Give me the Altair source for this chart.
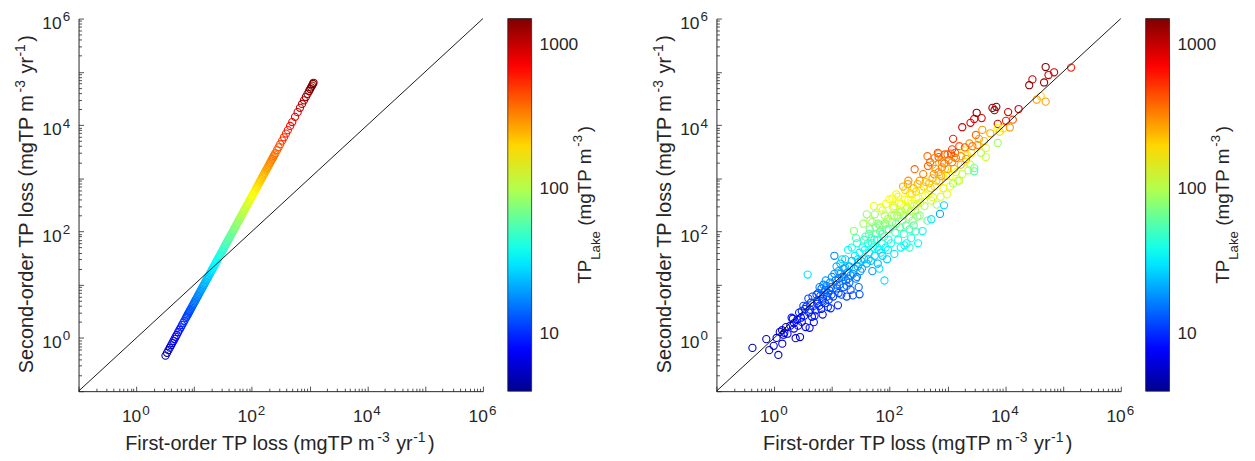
import altair as alt
import pandas as pd

FONT = "Liberation Sans"
TXT = "#262626"
W, H = 407, 375

# ---------------- left panel data (first-order vs second-order) ----------------
left_first = [3.2, 3.4, 3.6, 3.8, 4.0, 4.2, 4.4, 4.6, 4.8, 5.0,
              5.3, 5.6, 5.9, 6.2, 6.5, 6.8, 7.2, 7.6, 8.0, 8.4,
              8.8, 9.3, 9.8, 10.3, 10.8, 11.4, 12, 12.6, 13.3, 14,
              14.7, 15.5, 16.3, 17.1, 18, 19, 20, 21, 22, 23.2,
              24.4, 25.6, 27, 28.4, 30, 31.5, 33, 35, 37, 39,
              41, 43, 45, 47.5, 50, 52.5, 55, 58, 61, 64,
              67, 71, 75, 79, 83, 87, 92, 97, 102, 107,
              113, 119, 125, 132, 139, 146, 154, 162, 171, 180,
              190, 200, 212, 225, 240, 255, 272, 290, 310, 335,
              360, 390, 420, 460, 500, 560, 620, 680, 740, 800,
              860, 920, 980, 1020, 1060, 1100, 1140, 1170,
              7.4, 7.8, 8.2, 8.6, 9.05, 9.55, 10.05, 10.55, 11.1, 11.7,
              12.3, 12.95, 13.65, 14.35, 15.1, 15.9, 16.7, 17.55, 18.5, 19.5,
              20.5, 21.5, 22.6, 23.8, 25, 26.3, 27.7, 29.2, 30.7, 32.2,
              34, 36, 38, 40, 42, 44, 46.2, 48.7, 51.2, 53.7,
              56.5, 59.5, 62.5, 65.5, 69, 73, 77, 81, 85, 89.5,
              94.5, 99.5, 104.5, 110, 116, 122, 128.5, 135.5, 142.5, 150,
              158, 166.5, 175.5, 185, 195, 206, 218.5, 232.5, 247.5]
left_second = [0.465, 0.525, 0.589, 0.656, 0.727, 0.802, 0.88, 0.962, 1.05, 1.14,
               1.28, 1.43, 1.58, 1.75, 1.92, 2.10, 2.36, 2.63, 2.91, 3.21,
               3.52, 3.93, 4.37, 4.82, 5.30, 5.91, 6.55, 7.22, 8.04, 8.91,
               9.82, 10.9, 12.1, 13.3, 14.7, 16.4, 18.2, 20.0, 22.0, 24.5,
               27.1, 29.8, 33.1, 36.7, 40.9, 45.1, 49.5, 55.7, 62.2, 69.1,
               76.4, 84.0, 92.0, 103, 114, 125, 138, 153, 169, 186,
               204, 229, 256, 284, 313, 344, 385, 428, 473, 520,
               580, 644, 710, 792, 878, 969, 1078, 1193, 1329, 1473,
               1641, 1818, 2043, 2301, 2618, 2956, 3363, 3823, 4368, 5101,
               5891, 6914, 8018, 9618, 11364, 14255, 17473, 21018, 24891, 29091,
               33618, 38473, 43655, 47291, 51073, 55000, 59073, 62223,
               2.49, 2.77, 3.06, 3.36, 3.72, 4.15, 4.59, 5.06, 5.60, 6.22,
               6.88, 7.62, 8.47, 9.36, 10.4, 11.5, 12.7, 14.0, 15.6, 17.3,
               19.1, 21.0, 23.2, 25.7, 28.4, 31.4, 34.9, 38.8, 42.8, 47.1,
               52.5, 58.9, 65.6, 72.7, 80.2, 88.0, 97.0, 107.8, 119.2, 131.1,
               145.1, 160.9, 177.6, 195.0, 216.4, 242.2, 269.5, 298.2, 328.4, 364.1,
               405.9, 450.0, 496.4, 550, 611.6, 676.5, 750.6, 834.6, 923.0, 1022.7,
               1134.7, 1260.1, 1400, 1555.7, 1728.4, 1928.9, 2170.1, 2457.1, 2784.4]
left_tp = [4.7, 5.0, 5.3, 5.6, 5.9, 6.2, 6.5, 6.8, 7.1, 7.4,
           7.8, 8.3, 8.7, 9.2, 9.6, 10.1, 10.7, 11.2, 11.8, 12.4,
           13.0, 13.8, 14.5, 15.2, 16.0, 16.9, 17.8, 18.6, 19.7, 20.7,
           21.8, 22.9, 24.1, 25.3, 26.6, 28.1, 29.6, 31.1, 32.6, 34.3,
           36.1, 37.9, 40.0, 42.0, 44.4, 46.6, 48.8, 51.8, 54.8, 57.7,
           60.7, 63.6, 66.6, 70.3, 74, 77.7, 81.4, 85.8, 90.3, 94.7,
           99.2, 105, 111, 117, 123, 129, 136, 144, 151, 158,
           167, 176, 185, 195, 206, 216, 228, 240, 253, 266,
           281, 296, 314, 333, 355, 377, 403, 429, 459, 496,
           533, 577, 622, 681, 740, 829, 918, 1006, 1095, 1184,
           1273, 1362, 1450, 1510, 1569, 1628, 1687, 1732,
           10.95, 11.5, 12.1, 12.7, 13.4, 14.1, 14.9, 15.6, 16.4, 17.3,
           18.2, 19.2, 20.2, 21.2, 22.3, 23.5, 24.7, 26.0, 27.4, 28.9,
           30.3, 31.8, 33.4, 35.2, 37, 38.9, 41.0, 43.2, 45.4, 47.7,
           50.3, 53.3, 56.2, 59.2, 62.2, 65.1, 68.4, 72.1, 75.8, 79.5,
           83.6, 88.1, 92.5, 96.9, 102, 108, 114, 120, 126, 132,
           140, 147, 155, 163, 172, 181, 190, 201, 211, 222,
           234, 246, 260, 274, 289, 305, 323, 344, 366]

# ---------------- right panel data (scatter) ----------------
right_first = [
    0.42, 0.73, 0.82, 0.98, 1.18, 1.38, 1.5, 1.1, 1.25, 1.6, 1.7, 1.9, 2.0, 1.45, 1.37,
    2.35, 2.8, 2.2, 2.5, 2.6, 3.0, 3.0, 3.3, 3.5, 3.8, 3.6, 4.1, 4.0, 4.3, 4.5, 4.85, 4.8, 2.1, 2.7, 3.2, 3.9, 4.6,
    5.2, 5.5, 5.8, 6.0, 6.3, 6.9, 6.6, 7.0, 7.3, 7.6, 8.0, 8.2, 8.5, 9.0, 9.5, 9.3, 5.4, 6.1, 7.8, 8.8, 5.0, 6.5, 7.1, 9.8,
    10.5, 11, 11.5, 12, 12.7, 13, 13.5, 14, 14.5, 15, 16, 16, 17, 17.5, 18, 18.5, 19, 20, 20, 21,
    22, 23, 23, 24, 25, 26, 27, 28, 29, 30, 30, 31, 11, 13, 15, 19, 22, 26, 28, 12,
    33, 34, 35, 36, 38, 40, 40, 42, 44, 45, 47, 48, 50, 50, 52, 55, 55, 58, 60, 62, 63, 65, 68,
    70, 72, 75, 78, 80, 81, 82, 85, 88, 90, 92, 95, 98, 36, 46, 53, 66, 75, 86, 44, 57, 70, 93,
    105, 110, 115, 120, 125, 130, 135, 140, 145, 150, 155, 160, 165, 170, 175, 180, 190, 195, 200, 210, 215, 220,
    225, 235, 240, 250, 260, 270, 275, 280, 290, 300, 305, 310, 205, 230, 120, 140, 180, 260, 220, 112, 185, 295,
    330, 350, 370, 380, 400, 420, 450, 470, 500, 520, 550, 740, 600, 620, 650, 700, 720,
    760, 800, 870, 850, 900, 950, 525, 460, 680, 560, 330, 980, 450, 600, 800, 550, 900,
    1000, 1300, 1050, 1100, 1200, 1300, 1400, 1500, 1600, 1700, 1800, 1950, 2100, 2300, 2400, 2600,
    2900, 2900, 2500, 2900, 3100, 1250, 1150, 700, 1100, 1400, 1800, 2000, 2500, 1250, 1600, 2200,
    3200, 3900, 4000, 3500, 4600, 4600, 3800, 7400, 6000, 7000, 6500, 7400, 9300, 7400, 5500, 8000,
    13500, 11200, 17000, 35000, 41000, 50000, 29500, 26000, 47000, 56000, 70000, 50000, 138000, 10300, 12000,
    2.2, 2.9, 3.4, 4.2, 5.6, 6.8, 7.7, 8.6, 9.7, 10, 12, 13, 14, 16, 17, 18, 21, 24, 27, 29,
    32, 37, 43, 49, 54, 61, 67, 74, 83, 96, 108, 118, 128, 148, 158, 172, 188, 208, 245, 265,
    285, 315, 340, 390, 410, 480, 510, 580, 640, 700, 780, 880, 1000, 1200, 1350, 1700, 2000, 2700, 3300, 4300]
right_second = [
    0.65, 0.95, 0.59, 0.71, 0.48, 0.78, 1.25, 1.0, 1.3, 1.6, 1.2, 1.7, 2.4, 1.15, 1.4,
    0.99, 1.04, 1.5, 2.2, 1.7, 2.0, 3.2, 2.6, 1.6, 15.5, 3.9, 1.55, 3.0, 4.6, 2.5, 1.98, 4.0, 2.3, 3.0, 4.0, 5.5, 6.0,
    3.3, 5.0, 7.0, 4.0, 6.2, 2.75, 8.5, 5.5, 7.2, 4.5, 9.5, 6.0, 3.8, 7.8, 3.6, 11, 6.5, 9.0, 12, 5.2, 2.6, 3.5, 10, 6.5,
    6.0, 35, 12, 8.5, 4.1, 18, 10, 25, 6.5, 14, 20, 9, 30, 12, 6, 17, 45, 22, 11, 8.0,
    28, 6.3, 16, 102, 35, 13, 60, 22, 9, 6.6, 40, 18, 16, 7, 30, 13, 50, 75, 30, 22,
    20, 50, 140, 30, 80, 25, 210, 60, 40, 110, 28, 75, 18, 150, 50, 210, 35, 90, 70, 25, 140, 45, 100,
    280, 60, 35, 130, 80, 12, 200, 50, 110, 30, 170, 70, 400, 70, 160, 300, 20, 250, 330, 90, 120, 40, 45,
    60, 150, 280, 38, 95, 500, 200, 70, 350, 120, 50, 240, 160, 700, 90, 400, 130, 60, 280, 900, 190, 110,
    520, 75, 330, 160, 650, 1480, 250, 100, 420, 190, 780, 60, 780, 240, 200, 450, 55, 130, 50, 420, 600, 330,
    200, 600, 102, 1200, 300, 850, 160, 500, 2000, 380, 1000, 214, 700, 1500, 320, 2500, 900,
    450, 1600, 310, 650, 2800, 1100, 170, 1700, 3000, 440, 900, 500, 2600, 2400, 2000, 1800, 1500,
    2800, 2500, 2200, 700, 3500, 1500, 2400, 900, 4000, 1800, 9100, 3300, 2300, 1400, 4500, 3000,
    1550, 1350, 11000, 13000, 6500, 5500, 2900, 2900, 1100, 1300, 1200, 2000, 1800, 800, 900, 2700,
    17000, 13500, 8100, 5500, 3700, 2500, 3000, 4600, 21000, 22000, 19000, 10500, 8700, 8700, 7000, 7500,
    12600, 17500, 20000, 30000, 35000, 27500, 72000, 56000, 63000, 87000, 98000, 123000, 120000, 12000, 9000,
    1.9, 2.4, 3.5, 3.4, 4.4, 5.0, 8.0, 7.0, 9.0, 14, 10, 13, 16, 14, 21, 9.5, 15, 20, 14, 26,
    28, 45, 30, 60, 70, 50, 130, 90, 140, 110, 200, 300, 140, 230, 330, 200, 260, 380, 500, 300,
    560, 420, 350, 700, 480, 800, 650, 1200, 900, 1300, 1100, 1900, 1500, 2000, 3000, 2600, 3800, 4000, 4200, 5000]
right_tp = [
    5, 5.5, 5, 6, 6, 6, 7, 6, 7, 7, 6.5, 7, 8.5, 6.3, 6.8,
    6, 6.5, 7, 8, 7.5, 8, 9.5, 9, 7.5, 30, 10, 7.5, 9, 11, 8.5, 8, 10, 8, 9, 11, 12, 12,
    9, 11, 13, 10, 12, 8, 14, 11, 13, 10, 16, 12, 10, 14, 9.5, 17, 12, 16, 20, 11, 9, 9, 17, 12,
    11, 18, 15, 13, 10, 19, 14, 22, 12, 16, 20, 13, 26, 15, 11, 18, 35, 21, 14, 12,
    25, 12, 17, 80, 30, 16, 45, 22, 14, 12, 32, 19, 18, 12, 28, 15, 40, 55, 27, 22,
    20, 38, 90, 25, 55, 22, 85, 45, 32, 70, 24, 50, 18, 90, 38, 85, 28, 60, 48, 22, 80, 33, 60,
    130, 40, 27, 75, 52, 30, 100, 35, 65, 26, 95, 45, 160, 50, 95, 140, 30, 120, 150, 60, 70, 30, 32,
    38, 75, 120, 30, 52, 170, 90, 42, 140, 62, 33, 105, 80, 250, 48, 150, 65, 35, 115, 300, 85, 55,
    190, 40, 130, 72, 220, 400, 100, 50, 160, 80, 250, 35, 280, 100, 95, 160, 34, 60, 45, 150, 200, 130,
    75, 180, 35, 350, 100, 230, 60, 150, 420, 120, 260, 20, 190, 330, 95, 450, 220,
    130, 350, 28, 170, 450, 240, 30, 400, 500, 130, 280, 130, 380, 350, 300, 260, 220,
    380, 320, 350, 140, 500, 260, 330, 150, 450, 250, 1000, 150, 300, 100, 300, 200,
    60, 60, 900, 800, 400, 600, 450, 350, 150, 140, 110, 170, 120, 90, 95, 190,
    1500, 900, 300, 280, 130, 120, 100, 90, 1400, 1500, 1300, 900, 180, 160, 250, 200,
    450, 950, 800, 300, 200, 280, 1000, 1500, 1400, 950, 900, 1600, 600, 600, 300,
    7.5, 8.5, 10, 9.5, 10, 11, 14, 13, 15, 18, 15, 16, 18, 16, 21, 14, 17, 20, 16, 24,
    25, 35, 26, 42, 48, 36, 75, 55, 80, 62, 95, 130, 68, 100, 140, 85, 110, 150, 180, 115,
    200, 150, 120, 210, 150, 230, 190, 300, 230, 300, 260, 370, 280, 330, 420, 300, 450, 350, 320, 230]

# ---------------- axes / colour bar settings ----------------
diag_vals = [0.1, 1e6]
label_ticks = [1, 100, 10000, 1000000]
label_exps = ["0", "2", "4", "6"]
minor_ticks = [m * 10.0 ** e for e in range(-1, 6) for m in range(1, 10)] + [1e6]
cbar_ticks = [10, 100, 1000]
jet_colors = ["#00008F", "#0000FF", "#00FFFF", "#FFFF00", "#FF0000", "#800000"]
jet_domain = [4.0, 7.73, 35.0, 158.0, 714.0, 1520.0]

DEC = "abs(log(datum.value)/LN10 - round(log(datum.value)/LN10)) < 0.001"

xscale = alt.Scale(type="log", domain=[0.1, 1e6], nice=False)
yscale = alt.Scale(type="log", domain=[0.1, 1e6], nice=False)
cscale = alt.Scale(type="log", domain=jet_domain, range=jet_colors,
                   interpolate="rgb", clamp=True, nice=False)

ONE = pd.DataFrame({"k": [0]})
TICKS = pd.DataFrame({"v": label_ticks, "e": label_exps})


def txt(s, size, x, y, angle=None):
    kw = dict(text=s, font=FONT, fontSize=size, color=TXT, align="left",
              baseline="alphabetic")
    if angle is not None:
        kw["angle"] = angle
    return alt.Chart(ONE).mark_text(**kw).encode(x=alt.value(x), y=alt.value(y))


def tick_labels():
    common = dict(font=FONT, color=TXT, baseline="alphabetic")
    xb = alt.Chart(TICKS).mark_text(text="10", fontSize=17.5, align="right", dx=5, **common).encode(
        x=alt.X("v:Q", scale=xscale, axis=None), y=alt.value(H + 31))
    xe = alt.Chart(TICKS).mark_text(fontSize=13.5, align="left", dx=6, **common).encode(
        x=alt.X("v:Q", scale=xscale, axis=None), y=alt.value(H + 24), text="e:N")
    yb = alt.Chart(TICKS).mark_text(text="10", fontSize=17.5, align="right", dy=10.5, **common).encode(
        y=alt.Y("v:Q", scale=yscale, axis=None), x=alt.value(-17))
    ye = alt.Chart(TICKS).mark_text(fontSize=13.5, align="left", dy=2.5, **common).encode(
        y=alt.Y("v:Q", scale=yscale, axis=None), x=alt.value(-16), text="e:N")
    return [xb, xe, yb, ye]


def titles():
    xt_y = H + 59
    x0 = 47
    parts = [
        txt("First-order TP loss (mgTP m", 20, x0, xt_y),
        txt("-3", 14, x0 + 253.7, xt_y - 8),
        txt("yr", 20, x0 + 272.7, xt_y),
        txt("-1", 14, x0 + 289.8, xt_y - 8),
        txt(")", 20, x0 + 304.7, xt_y),
    ]
    yb = -46
    parts += [
        txt("Second-order TP loss (mgTP m", 20, yb, 357, 270),
        txt("-3", 14, yb - 8, 74.3, 270),
        txt("yr", 20, yb, 55.3, 270),
        txt("-1", 14, yb - 8, 38.2, 270),
        txt(")", 20, yb, 23.3, 270),
    ]
    cb = 516
    parts += [
        txt("TP", 19, cb, 267, 270),
        txt("Lake", 13.3, cb + 9, 242.7, 270),
        txt("(mgTP m", 19, cb, 208.6, 270),
        txt("-3", 13.3, cb - 9, 129.0, 270),
        txt(")", 19, cb, 114.5, 270),
    ]
    return parts


def panel(first, second, tp):
    df = pd.DataFrame({"first": first, "second": second, "tp": tp})
    ddf = pd.DataFrame({"d": diag_vals})

    x_axis = alt.Axis(orient="bottom", labels=False, ticks=False, grid=False,
                      domainColor=TXT, domainWidth=1, title=None)
    y_axis = alt.Axis(orient="left", labels=False, ticks=False, grid=False,
                      domainColor=TXT, domainWidth=1, title=None)
    tick_size = {"condition": {"test": DEC, "value": 5}, "value": 3}
    x_ticks = alt.Axis(orient="top", offset=-H, values=minor_ticks, labels=False,
                       domain=False, grid=False, title=None, tickColor=TXT,
                       tickWidth=0.8, tickSize=tick_size)
    y_ticks = alt.Axis(orient="right", offset=-W, values=minor_ticks, labels=False,
                       domain=False, grid=False, title=None, tickColor=TXT,
                       tickWidth=0.8, tickSize=tick_size)

    legend = alt.Legend(orient="right", offset=25, padding=0, title=None,
                        values=cbar_ticks, format="d", direction="vertical",
                        gradientLength=H, gradientThickness=24,
                        gradientStrokeColor=TXT, gradientStrokeWidth=0.8,
                        labelFont=FONT, labelFontSize=17.5, labelColor=TXT,
                        labelOffset=8)

    pts = alt.Chart(df).mark_point(shape="circle", filled=False, size=52,
                                   strokeWidth=1.1, opacity=1).encode(
        x=alt.X("first:Q", scale=xscale, axis=x_axis),
        y=alt.Y("second:Q", scale=yscale, axis=y_axis),
        color=alt.Color("tp:Q", scale=cscale, legend=legend),
    )
    line = alt.Chart(ddf).mark_line(color="black", strokeWidth=0.9).encode(
        x=alt.X("d:Q", scale=xscale, axis=x_ticks),
        y=alt.Y("d:Q", scale=yscale, axis=y_ticks),
    )
    return alt.layer(pts, line, *tick_labels(), *titles()).properties(width=W, height=H)


left = panel(left_first, left_second, left_tp)
right = panel(right_first, right_second, right_tp)

chart = alt.hconcat(
    left, right, spacing=235, bounds="flush",
    autosize=alt.AutoSizeParams(type="none"),
    padding={"left": 71, "top": 8, "right": 1176, "bottom": 437},
).resolve_scale(color="independent").resolve_legend(color="independent").configure_view(stroke=None)

chart.save("out.html", embed_options={"renderer": "svg", "actions": False})
